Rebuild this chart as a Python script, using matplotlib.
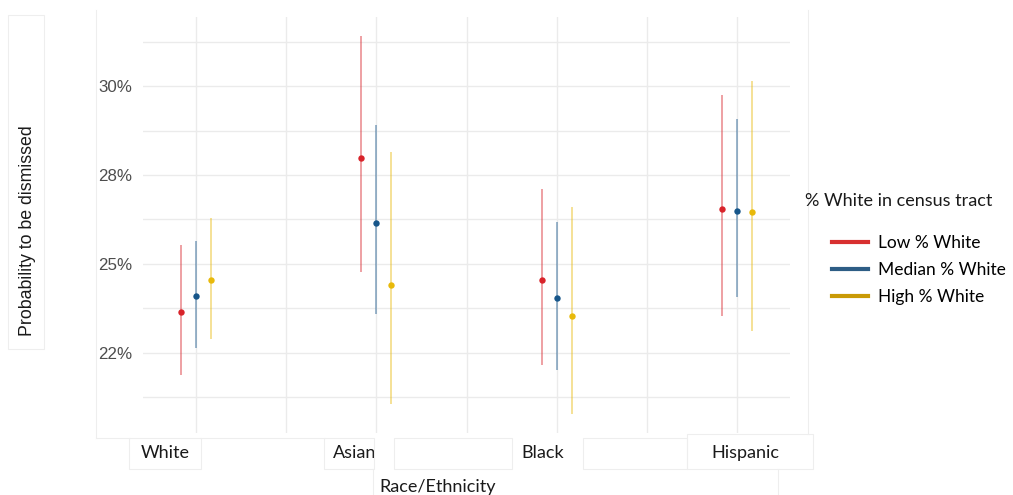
import matplotlib
matplotlib.use("Agg")
import matplotlib.pyplot as plt
import numpy as np
from matplotlib.lines import Line2D
from matplotlib.patches import Rectangle
from matplotlib.transforms import ScaledTranslation

# ---- data ----
categories = ["White", "Asian", "Black", "Hispanic"]
groups = ["Low % White", "Median % White", "High % White"]
estimate = {
    "Low % White":    [0.2365, 0.2798, 0.2455, 0.2654],
    "Median % White": [0.2410, 0.2615, 0.2404, 0.2649],
    "High % White":   [0.2455, 0.2441, 0.2354, 0.2646],
}
lower = {
    "Low % White":    [0.2188, 0.2477, 0.2216, 0.2354],
    "Median % White": [0.2264, 0.2360, 0.2202, 0.2407],
    "High % White":   [0.2289, 0.2107, 0.2079, 0.2312],
}
upper = {
    "Low % White":    [0.2553, 0.3140, 0.2711, 0.2975],
    "Median % White": [0.2565, 0.2890, 0.2618, 0.2907],
    "High % White":   [0.2629, 0.2815, 0.2660, 0.3014],
}
ytick_values = [0.225, 0.25, 0.275, 0.30]
ytick_labels = ["22%", "25%", "28%", "30%"]

point_colors = {"Low % White": "#d8232a", "Median % White": "#17568a", "High % White": "#e8b90a"}
legend_colors = {"Low % White": "#d83030", "Median % White": "#2d5d85", "High % White": "#c99a06"}
offsets = {"Low % White": -0.083, "Median % White": 0.0, "High % White": 0.083}

W, H = 1013, 495
fig = plt.figure(figsize=(W / 100, H / 100), dpi=100)
fig.patch.set_facecolor("white")

def fx(px):
    return px / W

def fy(py):
    return 1 - py / H

ax = fig.add_axes([fx(143), fy(433), fx(790) - fx(143), fy(17) - fy(433)])
ax.set_facecolor("white")
for s in ax.spines.values():
    s.set_visible(False)

x = np.arange(1, len(categories) + 1)
for g in groups:
    xs = x + offsets[g]
    ax.vlines(xs, lower[g], upper[g], color=point_colors[g], alpha=0.5, lw=1.2, zorder=3)
    ax.plot(xs, estimate[g], "o", color=point_colors[g], ms=4.6, mew=0, zorder=4)

ax.set_xlim(0.706, 4.294)
ax.set_ylim(0.2025, 0.3194)

ax.set_yticks(ytick_values)
ax.set_yticklabels(ytick_labels, fontfamily="Liberation Sans", fontsize=12.2, color="#4d4d4d")
ax.set_yticks([0.2125, 0.2375, 0.2625, 0.2875, 0.3125], minor=True)
ax.set_xticks(x)
ax.set_xticklabels(categories, fontfamily="Lato", fontsize=13, color="#1a1a1a")
ax.set_xticks([1.5, 2.5, 3.5], minor=True)
ax.tick_params(axis="both", which="both", length=0)
ax.tick_params(axis="y", pad=8)
ax.tick_params(axis="x", pad=8.5)
ax.grid(True, which="both", color="#ebebeb", lw=1.0, zorder=0)
ax.set_axisbelow(True)

# shift x tick labels to match the screenshot layout
label_shift_px = [-31, -22, -14, 8]
for lab, dx in zip(ax.get_xticklabels(), label_shift_px):
    lab.set_transform(lab.get_transform() + ScaledTranslation(dx / 100, 0, fig.dpi_scale_trans))

# axis titles
fig.text(fx(438), fy(487), "Race/Ethnicity", fontfamily="Lato", fontsize=13,
         color="#1a1a1a", ha="center", va="center")
fig.text(fx(27), fy(231), "Probability to be dismissed", fontfamily="Liberation Sans",
         fontsize=12.8, color="#1a1a1a", rotation=90, ha="center", va="center")

# legend
fig.text(fx(805), fy(201), "% White in census tract", fontfamily="Lato", fontsize=13,
         color="#1a1a1a", ha="left", va="center")
handles = [Line2D([0], [0], color=legend_colors[g], lw=3) for g in groups]
fig.legend(handles, groups, loc="upper left", bbox_to_anchor=(fx(827), fy(230)),
           frameon=False, prop={"family": "Lato", "size": 12.5}, handlelength=2.07,
           handletextpad=0.57, labelspacing=0.62, borderaxespad=0, borderpad=0.3)

# faint screenshot boxes
box_color = "#eeeeee"
def fbox(x0, y0, x1, y1):
    fig.patches.append(Rectangle((fx(x0), fy(y1)), fx(x1) - fx(x0), fy(y0) - fy(y1),
                                 transform=fig.transFigure, fill=False,
                                 edgecolor=box_color, lw=0.8, zorder=0))
def fline(x0, y0, x1, y1):
    fig.lines.append(Line2D([fx(x0), fx(x1)], [fy(y0), fy(y1)], transform=fig.transFigure,
                            color=box_color, lw=0.8, zorder=0))

fbox(8, 15, 44, 349)
fline(96, 10, 96, 438)
fline(96, 438, 129, 438)
fbox(129, 438, 201, 469)
fline(201, 438, 324, 438)
fbox(324, 438, 374, 469)
fbox(394, 438, 512, 469)
fbox(583, 438, 687, 469)
fbox(687, 434, 813, 469)
fline(373, 469, 373, 495)
fline(778, 469, 778, 495)
fline(808, 10, 808, 434)

fig.savefig("out.png", dpi=100, facecolor="white")
